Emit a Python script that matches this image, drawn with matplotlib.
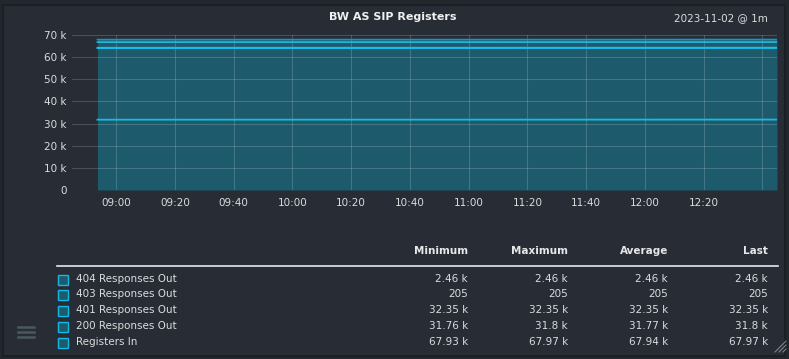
import matplotlib
matplotlib.use("Agg")
import matplotlib.pyplot as plt
from matplotlib.patches import Rectangle
import numpy as np
import pandas as pd

# ---- data ----
times = ["2023-11-02 08:53:40", "2023-11-02 09:40:00", "2023-11-02 10:40:00",
         "2023-11-02 11:40:00", "2023-11-02 12:45:00"]
resp200 = [31760, 31770, 31770, 31780, 31800]
resp401 = [32350, 32350, 32350, 32350, 32350]
resp403 = [205, 205, 205, 205, 205]
resp404 = [2460, 2460, 2460, 2460, 2460]
registers_in = [67930, 67940, 67940, 67950, 67970]

series_names = ["404 Responses Out", "403 Responses Out", "401 Responses Out",
                "200 Responses Out", "Registers In"]
stat_headers = ["Minimum", "Maximum", "Average", "Last"]
stats = [
    ["2.46 k", "2.46 k", "2.46 k", "2.46 k"],
    ["205", "205", "205", "205"],
    ["32.35 k", "32.35 k", "32.35 k", "32.35 k"],
    ["31.76 k", "31.8 k", "31.77 k", "31.8 k"],
    ["67.93 k", "67.97 k", "67.94 k", "67.97 k"],
]
yticks = [0, 10000, 20000, 30000, 40000, 50000, 60000, 70000]
ytick_labels = ["0", "10 k", "20 k", "30 k", "40 k", "50 k", "60 k", "70 k"]
title = "BW AS SIP Registers"
subtitle = "2023-11-02 @ 1m"

t = pd.to_datetime(times, format="%Y-%m-%d %H:%M:%S")
W, H = 789, 359
BG = "#22262d"
PANEL = "#272c35"
FILL = "#1d5b6c"
TXT = "#dcdcdc"

fig = plt.figure(figsize=(W / 100, H / 100), dpi=100, facecolor=BG)
# panel
fig.patches.append(Rectangle((3 / W, 1 - 356 / H), 782 / W, 351 / H,
                             transform=fig.transFigure, facecolor=PANEL,
                             edgecolor="#1a1d23", linewidth=1.2, zorder=-10))

ax = fig.add_axes([72 / W, 1 - 190 / H, (777 - 72) / W, (190 - 35) / H])
ax.set_zorder(5)
ax.set_facecolor("none")

s1 = np.array(resp200, dtype=float)
s2 = s1 + np.array(resp401)
s3 = s2 + np.array(resp403)
s4 = s3 + np.array(resp404)
reg = np.array(registers_in, dtype=float)

ax.fill_between(t, 0, reg, color=FILL, lw=0, zorder=1)
for y, c, lw in [(reg, "#1597be", 1.2), (s4, "#2ab8dc", 1.2),
                 (s3, "#16c4f0", 1.0), (s2, "#14c0f0", 1.3), (s1, "#14bbe8", 1.3)]:
    ax.plot(t, y, color=c, lw=lw, zorder=3)

ax.set_xlim(pd.Timestamp("2023-11-02 08:45"), pd.Timestamp("2023-11-02 12:45"))
ax.set_ylim(0, 70000)
ax.set_yticks(yticks)
ax.set_yticklabels(ytick_labels)

xt = pd.date_range("2023-11-02 09:00", "2023-11-02 12:40", freq="20min")
ax.set_xticks(xt)
ax.set_xticklabels([d.strftime("%H:%M") if d.strftime("%H:%M") != "12:40" else "" for d in xt])

ax.grid(True, color="#ffffff", alpha=0.17, lw=0.8, zorder=2)
ax.set_axisbelow(False)
for sp in ax.spines.values():
    sp.set_visible(False)
ax.tick_params(axis="both", length=0, colors=TXT, labelsize=7.5)
ax.tick_params(axis="x", pad=6)
ax.tick_params(axis="y", pad=4)


def fx(x):
    return x / W


def fy(y):
    return 1 - y / H


fig.text(fx(393), fy(17), title, ha="center", va="center", color="#f0f0f0",
         fontsize=8, fontweight="bold")
fig.text(fx(768), fy(18), subtitle, ha="right", va="center", color=TXT, fontsize=7.5)

# table
col_x = [468, 568, 668, 768]
for x, h in zip(col_x, stat_headers):
    fig.text(fx(x), fy(251), h, ha="right", va="center", color="#e8e8e8",
             fontsize=7.5, fontweight="bold")
fig.add_artist(plt.Line2D([fx(57), fx(778)], [fy(266), fy(266)], color="#e8e8e8", lw=1.2))
row_y = [279, 294, 310, 326, 342]
for ry, name, row in zip(row_y, series_names, stats):
    fig.patches.append(Rectangle((fx(57.5), fy(ry + 5.5)), 10 / W, 10 / H,
                                 transform=fig.transFigure, facecolor=FILL,
                                 edgecolor="#12b8e6", lw=1.0))
    fig.text(fx(76), fy(ry), name, ha="left", va="center", color=TXT, fontsize=7.5)
    for x, v in zip(col_x, row):
        fig.text(fx(x), fy(ry), v, ha="right", va="center", color=TXT, fontsize=7.5)

# hamburger icon
for yy in [327, 332, 337]:
    fig.add_artist(plt.Line2D([fx(18), fx(34)], [fy(yy), fy(yy)], color="#4a5960", lw=1.8))
# resize grip
for k in range(3):
    fig.add_artist(plt.Line2D([fx(775 + 4 * k), fx(786)], [fy(352), fy(341 + 4 * k)],
                              color="#8a8f96", lw=0.7))

fig.savefig("out.png", dpi=100, facecolor=BG)
